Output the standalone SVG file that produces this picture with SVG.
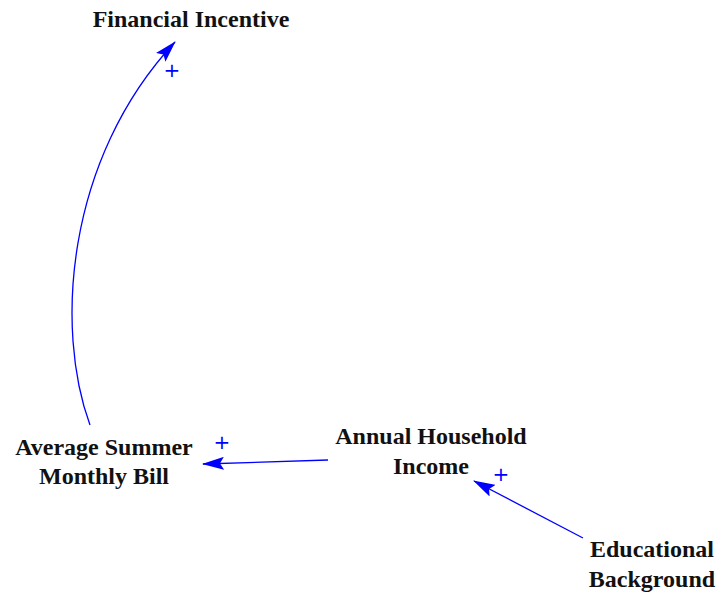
<svg xmlns="http://www.w3.org/2000/svg" width="719" height="592" viewBox="0 0 719 592">
<style>
.lbl{font-family:"Liberation Serif","Times New Roman",serif;font-size:24px;font-weight:bold;fill:#111;text-anchor:middle}
.link{fill:none;stroke:#0000ff;stroke-width:1.3}
.pol{font-family:"DejaVu Sans",sans-serif;font-size:20px;fill:#0000ff;text-anchor:middle}
</style>
<defs>
<marker id="ah" viewBox="0 0 22 13" refX="21" refY="6.5" markerWidth="22" markerHeight="13" markerUnits="userSpaceOnUse" orient="auto">
<path d="M0,0 L22,6.5 L0,13 L4,6.5 Z" fill="#0000ff"/>
</marker>
</defs>
<rect width="719" height="592" fill="#ffffff"/>
<g id="connectors">
<path class="link" d="M90,425 C55,330 65,160 175,42" marker-end="url(#ah)"/>
<path class="link" d="M328,460 L203,464" marker-end="url(#ah)"/>
<path class="link" d="M583,538 L474,481" marker-end="url(#ah)"/>
</g>
<g id="polarities">
<text class="pol" x="172" y="77">+</text>
<text class="pol" x="222" y="449">+</text>
<text class="pol" x="501" y="481">+</text>
</g>
<g id="financial-incentive"><text class="lbl" x="191" y="27">Financial Incentive</text></g>
<g id="average-summer-monthly-bill"><text class="lbl" x="104" y="455">Average Summer</text><text class="lbl" x="104" y="484">Monthly Bill</text></g>
<g id="annual-household-income"><text class="lbl" x="431" y="444">Annual Household</text><text class="lbl" x="431" y="474">Income</text></g>
<g id="educational-background"><text class="lbl" x="652" y="557">Educational</text><text class="lbl" x="652" y="587">Background</text></g>
</svg>
